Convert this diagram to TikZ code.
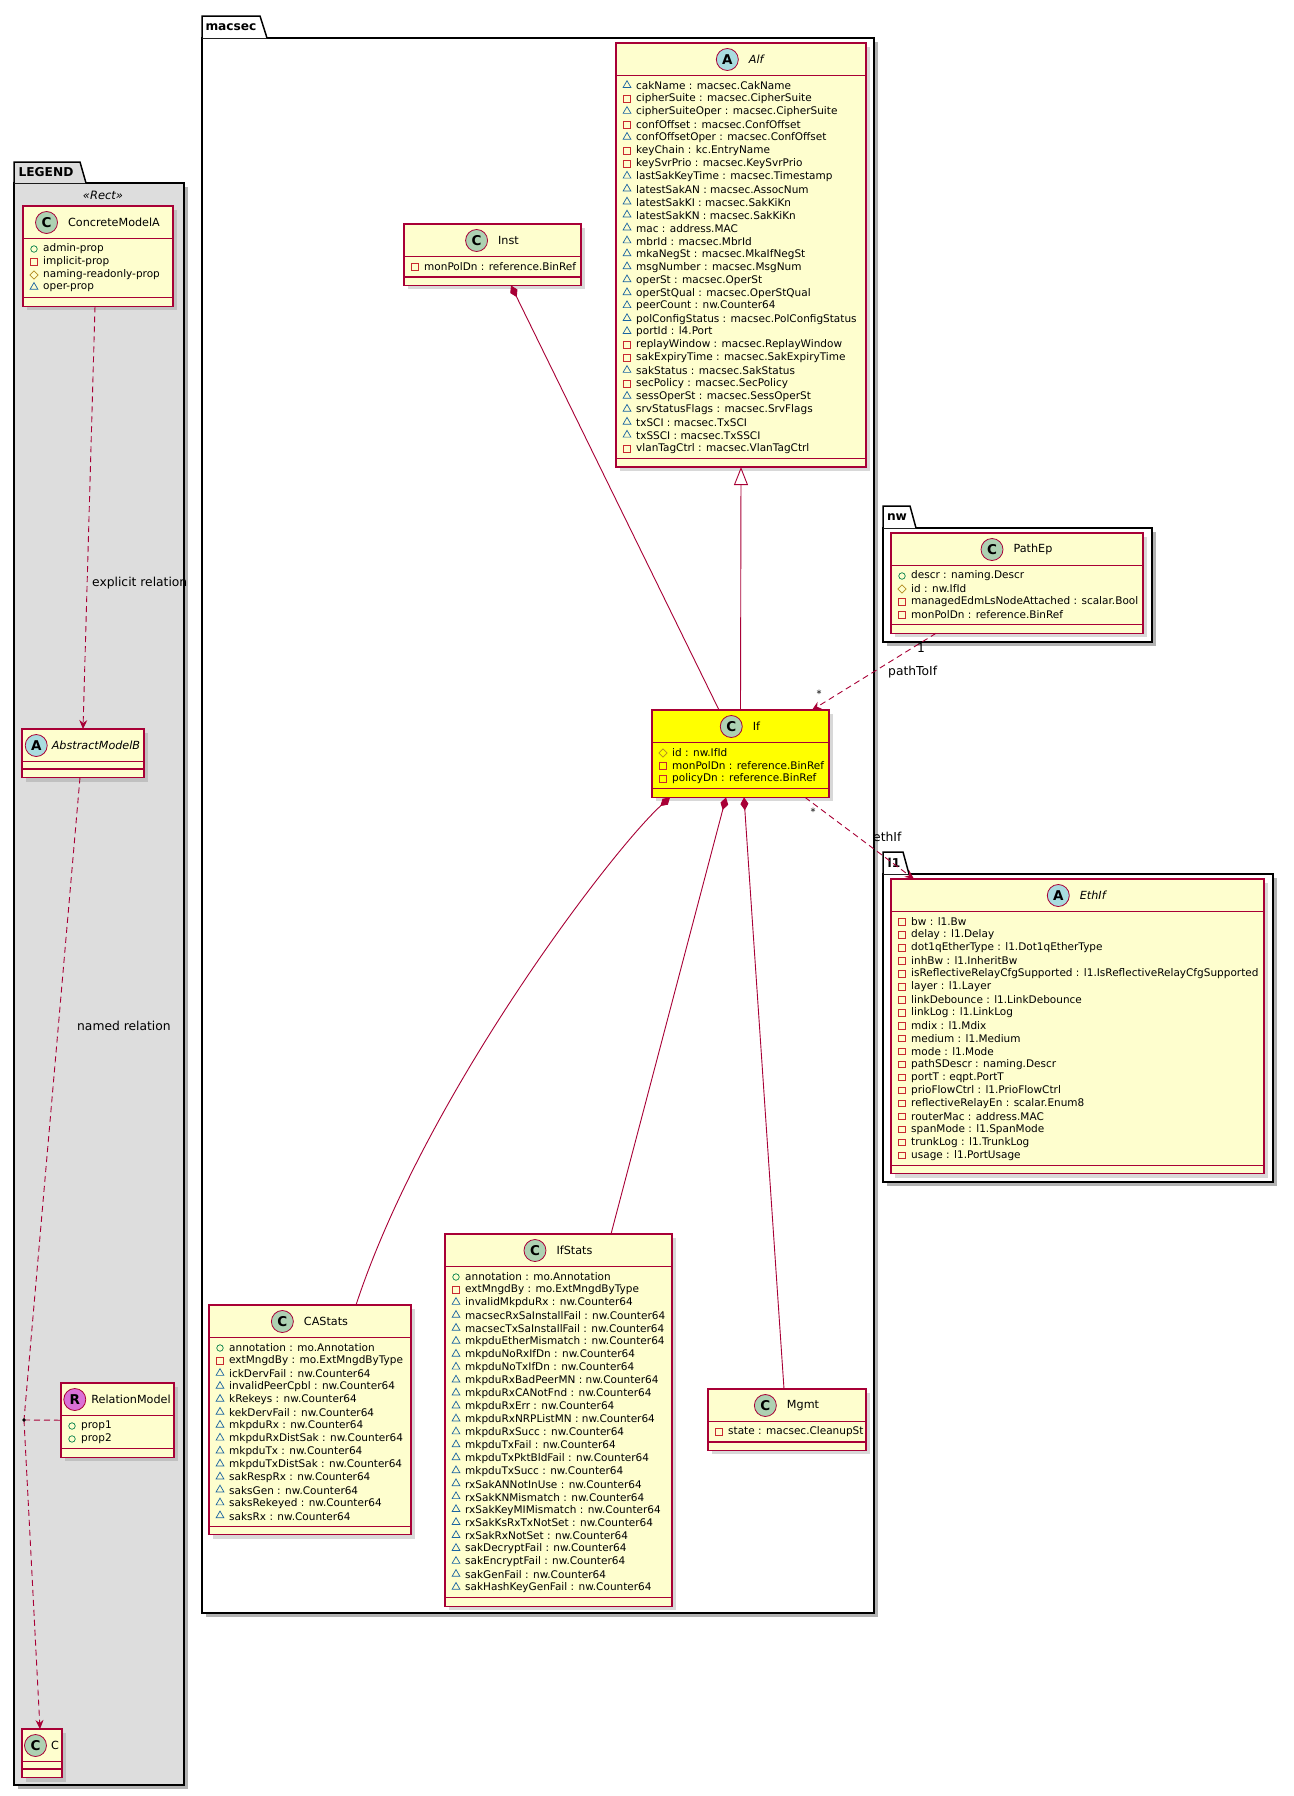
\documentclass[tikz,border=0pt]{standalone}
\usepackage{fontspec}
\setmainfont{DejaVu Sans}
\usepackage{tikz}
\usetikzlibrary{arrows.meta,shapes.geometric,shadows}

\definecolor{borda}{HTML}{A80036}
\definecolor{fundo}{HTML}{FEFECE}
\definecolor{amarelo}{HTML}{FFFF00}
\definecolor{spotC}{HTML}{ADD1B2}
\definecolor{spotA}{HTML}{A9DCDF}
\definecolor{spotR}{HTML}{DA70D6}
\definecolor{corpub}{HTML}{038048}
\definecolor{corpriv}{HTML}{C82930}
\definecolor{corprot}{HTML}{B38D22}
\definecolor{corpkg}{HTML}{1963A0}
\definecolor{cinza}{HTML}{DDDDDD}

% caixa da classe: nome, x, y, largura, n. de atributos, cor
\newcommand{\classe}[6]{%
  \pgfmathsetmacro{\altura}{48.5+12.95*#5}
  \node[classbox, fill=#6, minimum width=#4pt, minimum height=\altura pt] (#1) at (#2,#3) {};
  \draw[separador] ([yshift=-32.5pt]#1.north west) -- ([yshift=-32.5pt]#1.north east);
  \draw[separador] ([yshift=8.5pt]#1.south west) -- ([yshift=8.5pt]#1.south east);
}
% titulo: classe, letra, cor, espaco, nome
\newcommand{\titulo}[5]{%
  \node[nomeclasse] (#1titulo) at ([xshift={(11+#4/2)*1pt}, yshift=-16.5pt]#1.north) {#5};
  \node[mancha, fill=#3, anchor=east] (#1spot) at ([xshift=-#4pt]#1titulo.west) {#2};
}
% atributos: classe, lista visibilidade/texto
\newcommand{\atributos}[2]{%
  \foreach \vis/\txt [count=\i] in {#2} {
    \node[\vis] at ([xshift=11pt, yshift={-30.05pt-12.95pt*\i}]#1.north west) {};
    \node[attr] at ([xshift=20pt, yshift={-30.05pt-12.95pt*\i}]#1.north west) {\txt};
  }
}

\begin{document}
\begin{tikzpicture}[x=1pt, y=-1pt,
    classbox/.style={draw=borda, line width=1.2pt, anchor=north west, inner sep=0, outer sep=0,
      drop shadow={shadow xshift=4pt, shadow yshift=-4pt, opacity=0.3}},
    separador/.style={draw=borda, line width=1.1pt},
    nomeclasse/.style={inner sep=0, font=\fontsize{11.2}{13}\selectfont},
    mancha/.style={circle, draw=borda, line width=0.8pt, minimum size=22pt, inner sep=0,
      font=\bfseries\fontsize{13.5}{14}\selectfont},
    attr/.style={anchor=west, inner sep=0, font=\fontsize{10.5}{12}\selectfont},
    vispub/.style={circle, draw=corpub, line width=0.7pt, minimum size=6.5pt, inner sep=0},
    vispriv/.style={rectangle, draw=corpriv, line width=0.7pt, minimum size=6.5pt, inner sep=0},
    visprot/.style={diamond, draw=corprot, line width=0.7pt, minimum size=8.5pt, inner sep=0},
    vispkg/.style={regular polygon, regular polygon sides=3, draw=corpkg, line width=0.7pt,
      minimum size=9pt, inner sep=0, yshift=0.8pt},
    pasta/.style={draw=black, line width=1.5pt},
    sombra/.style={fill=black!30},
    nomepasta/.style={inner sep=0, font=\bfseries\fontsize{12.2}{14}\selectfont},
    rotulo/.style={inner sep=0, font=\fontsize{12.3}{14}\selectfont},
    comp/.style={draw=borda, line width=0.9pt, {Diamond[length=13pt, width=8pt]}-},
    heranca/.style={draw=borda, line width=0.9pt, -{Triangle[open, length=18pt, width=14pt, fill=white]}},
    dep/.style={draw=borda, line width=0.9pt, dash pattern=on 6pt off 4pt},
    seta/.style={-{Stealth[length=9pt, width=8pt, inset=3pt]}}]

    \useasboundingbox (0,0) rectangle (1293,1796);
    \fill[white] (0,0) rectangle (1293,1796);

    % Pacotes
    \fill[sombra] (206,42) rectangle (878,1617);
    \draw[pasta, fill=white] (202,38) rectangle (874,1613);
    \draw[pasta, fill=white] (202,38) -- (202,16) -- (260,16) -- (267,38);
    \node[nomepasta] (nmacsec) at (231,27) {macsec};

    \fill[sombra] (18,187) rectangle (188,1789);
    \draw[pasta, fill=cinza] (14,183) rectangle (184,1785);
    \draw[pasta, fill=cinza] (14,183) -- (14,162) -- (80,162) -- (86,183);
    \node[nomepasta] (nlegend) at (46,172) {LEGEND};
    \node[rotulo, font=\itshape\fontsize{11.5}{13}\selectfont] (nrect) at (103,195) {«Rect»};

    \fill[sombra] (887,532) rectangle (1156,646);
    \draw[pasta, fill=white] (883,528) rectangle (1152,642);
    \draw[pasta, fill=white] (883,528) -- (883,506) -- (910,506) -- (916,528);
    \node[nomepasta] (nnw) at (897,517) {nw};

    \fill[sombra] (887,878) rectangle (1277,1186);
    \draw[pasta, fill=white] (883,874) rectangle (1273,1182);
    \draw[pasta, fill=white] (883,874) -- (883,852) -- (903,852) -- (909,874);
    \node[nomepasta] (nl1) at (894,863) {l1};

    % Classes macsec
    \classe{alf}{616}{43}{250}{29}{fundo}
    \titulo{alf}{A}{spotA}{10}{\textit{Alf}}
    \atributos{alf}{vispkg/cakName : macsec.CakName, vispriv/cipherSuite : macsec.CipherSuite,
      vispkg/cipherSuiteOper : macsec.CipherSuite, vispriv/confOffset : macsec.ConfOffset,
      vispkg/confOffsetOper : macsec.ConfOffset, vispriv/keyChain : kc.EntryName,
      vispriv/keySvrPrio : macsec.KeySvrPrio, vispkg/lastSakKeyTime : macsec.Timestamp,
      vispkg/latestSakAN : macsec.AssocNum, vispkg/latestSakKI : macsec.SakKiKn,
      vispkg/latestSakKN : macsec.SakKiKn, vispkg/mac : address.MAC,
      vispkg/mbrId : macsec.MbrId, vispkg/mkaNegSt : macsec.MkaIfNegSt,
      vispkg/msgNumber : macsec.MsgNum, vispkg/operSt : macsec.OperSt,
      vispkg/operStQual : macsec.OperStQual, vispkg/peerCount : nw.Counter64,
      vispkg/polConfigStatus : macsec.PolConfigStatus, vispkg/portId : l4.Port,
      vispriv/replayWindow : macsec.ReplayWindow, vispriv/sakExpiryTime : macsec.SakExpiryTime,
      vispkg/sakStatus : macsec.SakStatus, vispriv/secPolicy : macsec.SecPolicy,
      vispkg/sessOperSt : macsec.SessOperSt, vispkg/srvStatusFlags : macsec.SrvFlags,
      vispkg/txSCI : macsec.TxSCI, vispkg/txSSCI : macsec.TxSSCI,
      vispriv/vlanTagCtrl : macsec.VlanTagCtrl}

    \classe{inst}{404}{224}{177}{1}{fundo}
    \titulo{inst}{C}{spotC}{10}{Inst}
    \atributos{inst}{vispriv/monPolDn : reference.BinRef}

    \classe{if}{652}{710}{177}{3}{amarelo}
    \titulo{if}{C}{spotC}{10}{If}
    \atributos{if}{visprot/id : nw.IfId, vispriv/monPolDn : reference.BinRef,
      vispriv/policyDn : reference.BinRef}

    \classe{castats}{209}{1305}{202}{14}{fundo}
    \titulo{castats}{C}{spotC}{10}{CAStats}
    \atributos{castats}{vispub/annotation : mo.Annotation, vispriv/extMngdBy : mo.ExtMngdByType,
      vispkg/ickDervFail : nw.Counter64, vispkg/invalidPeerCpbl : nw.Counter64,
      vispkg/kRekeys : nw.Counter64, vispkg/kekDervFail : nw.Counter64,
      vispkg/mkpduRx : nw.Counter64, vispkg/mkpduRxDistSak : nw.Counter64,
      vispkg/mkpduTx : nw.Counter64, vispkg/mkpduTxDistSak : nw.Counter64,
      vispkg/sakRespRx : nw.Counter64, vispkg/saksGen : nw.Counter64,
      vispkg/saksRekeyed : nw.Counter64, vispkg/saksRx : nw.Counter64}

    \classe{ifstats}{445}{1234}{227}{25}{fundo}
    \titulo{ifstats}{C}{spotC}{10}{IfStats}
    \atributos{ifstats}{vispub/annotation : mo.Annotation, vispriv/extMngdBy : mo.ExtMngdByType,
      vispkg/invalidMkpduRx : nw.Counter64, vispkg/macsecRxSaInstallFail : nw.Counter64,
      vispkg/macsecTxSaInstallFail : nw.Counter64, vispkg/mkpduEtherMismatch : nw.Counter64,
      vispkg/mkpduNoRxIfDn : nw.Counter64, vispkg/mkpduNoTxIfDn : nw.Counter64,
      vispkg/mkpduRxBadPeerMN : nw.Counter64, vispkg/mkpduRxCANotFnd : nw.Counter64,
      vispkg/mkpduRxErr : nw.Counter64, vispkg/mkpduRxNRPListMN : nw.Counter64,
      vispkg/mkpduRxSucc : nw.Counter64, vispkg/mkpduTxFail : nw.Counter64,
      vispkg/mkpduTxPktBldFail : nw.Counter64, vispkg/mkpduTxSucc : nw.Counter64,
      vispkg/rxSakANNotInUse : nw.Counter64, vispkg/rxSakKNMismatch : nw.Counter64,
      vispkg/rxSakKeyMIMismatch : nw.Counter64, vispkg/rxSakKsRxTxNotSet : nw.Counter64,
      vispkg/rxSakRxNotSet : nw.Counter64, vispkg/sakDecryptFail : nw.Counter64,
      vispkg/sakEncryptFail : nw.Counter64, vispkg/sakGenFail : nw.Counter64,
      vispkg/sakHashKeyGenFail : nw.Counter64}

    \classe{mgmt}{708}{1389}{158}{1}{fundo}
    \titulo{mgmt}{C}{spotC}{10}{Mgmt}
    \atributos{mgmt}{vispriv/state : macsec.CleanupSt}

    % nw e l1
    \classe{pathep}{891}{533}{252}{4}{fundo}
    \titulo{pathep}{C}{spotC}{10}{PathEp}
    \atributos{pathep}{vispub/descr : naming.Descr, visprot/id : nw.IfId,
      vispriv/managedEdmLsNodeAttached : scalar.Bool, vispriv/monPolDn : reference.BinRef}

    \classe{ethif}{891}{879}{373}{19}{fundo}
    \titulo{ethif}{A}{spotA}{10}{\textit{EthIf}}
    \atributos{ethif}{vispriv/bw : l1.Bw, vispriv/delay : l1.Delay,
      vispriv/dot1qEtherType : l1.Dot1qEtherType, vispriv/inhBw : l1.InheritBw,
      vispriv/isReflectiveRelayCfgSupported : l1.IsReflectiveRelayCfgSupported,
      vispriv/layer : l1.Layer, vispriv/linkDebounce : l1.LinkDebounce,
      vispriv/linkLog : l1.LinkLog, vispriv/mdix : l1.Mdix, vispriv/medium : l1.Medium,
      vispriv/mode : l1.Mode, vispriv/pathSDescr : naming.Descr, vispriv/portT : eqpt.PortT,
      vispriv/prioFlowCtrl : l1.PrioFlowCtrl, vispriv/reflectiveRelayEn : scalar.Enum8,
      vispriv/routerMac : address.MAC, vispriv/spanMode : l1.SpanMode,
      vispriv/trunkLog : l1.TrunkLog, vispriv/usage : l1.PortUsage}

    % Legenda
    \classe{concretea}{23}{206}{150}{4}{fundo}
    \titulo{concretea}{C}{spotC}{10}{ConcreteModelA}
    \atributos{concretea}{vispub/admin-prop, vispriv/implicit-prop,
      visprot/naming-readonly-prop, vispkg/oper-prop}

    \classe{abstractb}{22}{729}{122}{0}{fundo}
    \titulo{abstractb}{A}{spotA}{4}{\textit{AbstractModelB}}

    \classe{relmodel}{61}{1383}{113}{2}{fundo}
    \titulo{relmodel}{R}{spotR}{5}{RelationModel}
    \atributos{relmodel}{vispub/prop1, vispub/prop2}

    \classe{cmodel}{22}{1729}{40}{0}{fundo}
    \titulo{cmodel}{C}{spotC}{4}{C}

    % Ligacoes
    \draw[comp] ([xshift=107pt]inst.south west) -- ([xshift=67pt]if.north west);
    \draw[heranca] (if.north) -- (alf.south);
    \draw[dep, seta] ([xshift=45pt]pathep.south west) -- ([xshift=160pt]if.north west);
    \draw[dep, seta] ([xshift=153pt]if.south west) -- ([xshift=23pt]ethif.north west);
    \draw[comp] ([xshift=18pt]if.south west) .. controls (612,850) and (425,1095) .. ([xshift=147pt]castats.north west);
    \draw[comp] ([xshift=74pt]if.south west) -- ([xshift=166pt]ifstats.north west);
    \draw[comp] ([xshift=92pt]if.south west) -- ([xshift=76pt]mgmt.north west);

    \node[rotulo] (mult1) at (921,648) {1};
    \node[rotulo, anchor=west] (lblpath) at (888,672) {pathToIf};
    \node[rotulo, font=\fontsize{10}{12}\selectfont] (multa) at (819,694) {*};
    \node[rotulo, font=\fontsize{10}{12}\selectfont] (multb) at (813,812) {*};
    \node[rotulo, anchor=west] (lbleth) at (873,837) {ethIf};

    % Ligacoes da legenda
    \coordinate (ponto) at (24,1420);
    \draw[dep, seta] ([xshift=72pt]concretea.south west) -- (abstractb.north);
    \draw[dep] ([xshift=58pt]abstractb.south west) -- (ponto);
    \draw[dep] (ponto) -- (relmodel.west);
    \draw[dep, seta] (ponto) -- ([xshift=18pt]cmodel.north west);
    \fill[black] (ponto) circle (1.8pt);

    \node[rotulo, anchor=west] (lblexpl) at (92,583) {explicit relation};
    \node[rotulo, anchor=west] (lblnamed) at (77,1026) {named relation};
\end{tikzpicture}
\end{document}
